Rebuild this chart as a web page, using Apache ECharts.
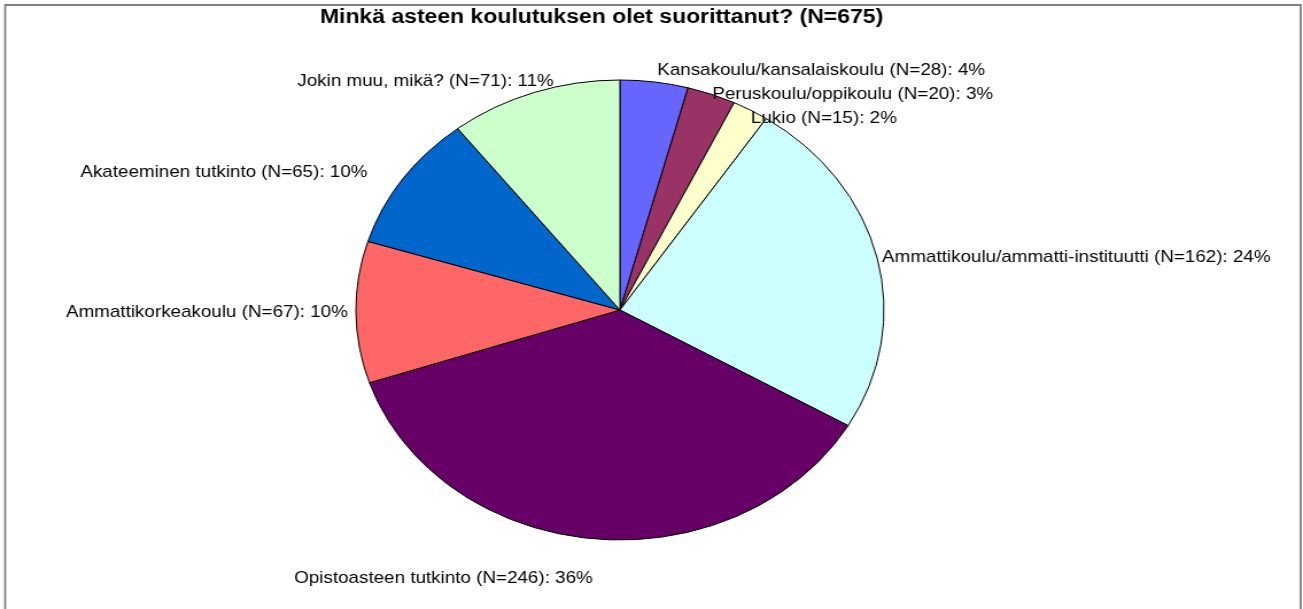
<!DOCTYPE html>
<html>
<head>
<meta charset="utf-8">
<script src="https://cdn.jsdelivr.net/npm/echarts@6/dist/echarts.min.js"></script>
<style>
  html, body { margin: 0; padding: 0; background: #fff; }
  #wrap { position: relative; width: 1303px; height: 609px; overflow: hidden; }
  /* the original chart is stretched sideways (pie is an ellipse, text is wide) */
  #main { position: absolute; left: 0; top: 0; width: 1135px; height: 609px;
          transform-origin: 0 0; transform: scaleX(1.148); }
</style>
</head>
<body>
<div id="wrap">
  <div id="main"></div>
</div>
<script>
// data
const categories = [
  'Kansakoulu/kansalaiskoulu',
  'Peruskoulu/oppikoulu',
  'Lukio',
  'Ammattikoulu/ammatti-instituutti',
  'Opistoasteen tutkinto',
  'Ammattikorkeakoulu',
  'Akateeminen tutkinto',
  'Jokin muu, mikä?'
]
const counts = [28, 20, 15, 162, 246, 67, 65, 71]
const colors = ['#6666FF', '#993366', '#FFFFCC', '#CCFFFF', '#660066', '#FF6666', '#0066CC', '#CCFFCC']
const titleText = 'Minkä asteen koulutuksen olet suorittanut? (N=675)'

const total = counts.reduce((a, b) => a + b, 0)

// label line lengths per slice, Excel puts its labels a bit irregularly
const lineLen = [12, 12, 12, 4, 40, 2, 12, 12]
const lineLen2 = [-4, -30, -34, 0, -9, 0, 16, -26]

const pieData = categories.map((name, i) => ({
  name,
  value: counts[i],
  labelLine: { length: lineLen[i], length2: lineLen2[i] }
}))

const chart = echarts.init(document.getElementById('main'))
chart.setOption({
  animation: false,
  color: colors,
  title: {
    text: titleText,
    left: 519,
    top: 2,
    textAlign: 'center',
    textStyle: { fontFamily: 'Liberation Sans, Arial', fontSize: 20, fontWeight: 'bold', color: '#000' }
  },
  graphic: [{
    type: 'rect',
    silent: true,
    shape: { x: 4.5, y: 5, width: 1128.5, height: 640 },
    style: { fill: 'none', stroke: '#808080', lineWidth: 1.8 }
  }],
  series: [{
    type: 'pie',
    center: [540, 310],
    radius: 230,
    startAngle: 90,
    clockwise: true,
    avoidLabelOverlap: true,
    labelLayout: { hideOverlap: false },
    itemStyle: { borderColor: '#000', borderWidth: 1 },
    emphasis: { disabled: true },
    label: {
      show: true,
      position: 'outside',
      fontFamily: 'Liberation Sans, Arial',
      fontSize: 16.4,
      lineHeight: 22,
      color: '#000',
      formatter: (p) => `${p.name} (N=${p.value}): ${Math.round(p.value / total * 100)}%`
    },
    labelLine: { show: false, length: 12, length2: 0 },
    data: pieData
  }]
})
</script>
</body>
</html>
